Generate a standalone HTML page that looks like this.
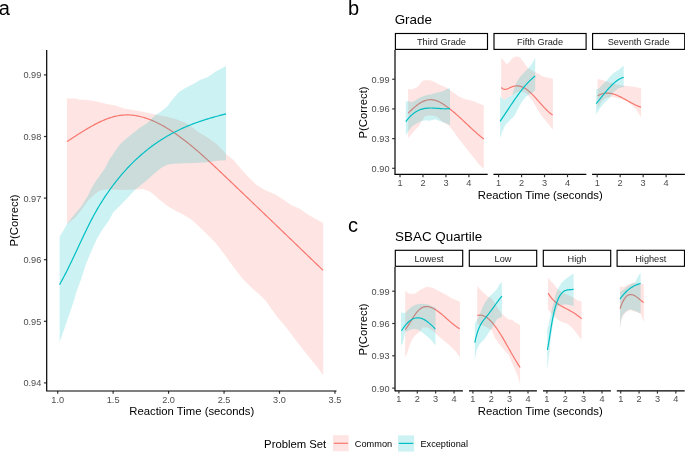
<!DOCTYPE html>
<html><head><meta charset="utf-8"><style>
html,body{margin:0;padding:0;background:#fff;}
svg{display:block;will-change:transform;}
text{font-family:"Liberation Sans",sans-serif;}
</style></head><body>
<svg width="685" height="458" viewBox="0 0 685 458">
<rect width="685" height="458" fill="#fff"/>
<text x="-1.15" y="14.5" font-size="20" text-anchor="start" fill="#000" >a</text>
<text x="347.9" y="14.6" font-size="20" text-anchor="start" fill="#000" >b</text>
<text x="348.1" y="232.1" font-size="20" text-anchor="start" fill="#000" >c</text>
<path d="M67,98.4 L74.6,98.4 L79,99.6 L89.2,100.3 L98,101.8 L106.7,104 L115.5,105.4 L124.2,108.4 L135.9,110.5 L147.6,112.7 L155.9,114.8 L164.7,116.3 L174.6,118.8 L184.4,122.2 L192.4,127.5 L198.7,132.3 L207.5,137.6 L216.2,143.7 L222.3,149.8 L226,154.1 L233.7,160.3 L241,169 L247.5,176.1 L256.2,184.8 L264.9,190.1 L275.4,194.5 L283.8,200 L291.1,204.9 L300.6,209.2 L306.7,213.8 L314.3,218.3 L323.2,222.9 L323.2,375.2 L315.4,364.7 L306.2,353.6 L297,341.8 L290,332.5 L286.2,327.6 L277.5,317.2 L268.7,304.9 L265.1,300 L259.9,295.1 L251.1,287.2 L242.4,278.5 L233.7,267.2 L224.9,254.9 L216.2,243.6 L207.5,234.8 L200.5,227.9 L192.6,220.5 L184.9,215.5 L176.2,211.1 L167.5,205.9 L158.7,198.9 L155,195.4 L149.8,191.4 L143.2,189.1 L135.4,189.5 L123.6,189.9 L113.1,189.5 L105,189.4 L99.5,190.7 L94.3,194.6 L87.7,201.2 L81.2,210.3 L74.6,218.2 L67,224.1 Z" fill="#F8766D" fill-opacity="0.2"/>
<path d="M67,141.6 L68,140.95 L69,140.3 L70,139.65 L71,138.99 L72,138.34 L73,137.69 L74,137.04 L75,136.39 L76,135.74 L77,135.1 L78,134.45 L79,133.81 L80,133.18 L81,132.55 L82,131.92 L83,131.3 L84,130.68 L85,130.07 L86,129.47 L87,128.87 L88,128.28 L89,127.7 L90,127.12 L91,126.55 L92,125.99 L93,125.44 L94,124.9 L95,124.37 L96,123.85 L97,123.34 L98,122.84 L99,122.35 L100,121.87 L101,121.41 L102,120.96 L103,120.52 L104,120.09 L105,119.68 L106,119.29 L107,118.9 L108,118.54 L109,118.18 L110,117.85 L111,117.53 L112,117.23 L113,116.94 L114,116.67 L115,116.42 L116,116.19 L117,115.97 L118,115.78 L119,115.61 L120,115.45 L121,115.32 L122,115.2 L123,115.11 L124,115.04 L125,114.98 L126,114.95 L127,114.94 L128,114.94 L129,114.97 L130,115.02 L131,115.08 L132,115.16 L133,115.26 L134,115.38 L135,115.52 L136,115.68 L137,115.85 L138,116.04 L139,116.25 L140,116.47 L141,116.71 L142,116.97 L143,117.25 L144,117.54 L145,117.84 L146,118.17 L147,118.5 L148,118.85 L149,119.22 L150,119.6 L151,120 L152,120.41 L153,120.84 L154,121.28 L155,121.73 L156,122.2 L157,122.68 L158,123.17 L159,123.67 L160,124.19 L161,124.72 L162,125.26 L163,125.82 L164,126.38 L165,126.96 L166,127.55 L167,128.15 L168,128.77 L169,129.39 L170,130.02 L171,130.67 L172,131.32 L173,131.99 L174,132.66 L175,133.35 L176,134.04 L177,134.75 L178,135.46 L179,136.18 L180,136.91 L181,137.65 L182,138.4 L183,139.16 L184,139.93 L185,140.7 L186,141.48 L187,142.27 L188,143.07 L189,143.87 L190,144.69 L191,145.51 L192,146.33 L193,147.16 L194,148 L195,148.85 L196,149.7 L197,150.56 L198,151.42 L199,152.29 L200,153.16 L201,154.04 L202,154.93 L203,155.82 L204,156.71 L205,157.61 L206,158.51 L207,159.42 L208,160.33 L209,161.25 L210,162.16 L211,163.09 L212,164.01 L213,164.94 L214,165.87 L215,166.81 L216,167.74 L217,168.68 L218,169.62 L219,170.57 L220,171.51 L221,172.46 L222,173.41 L223,174.36 L224,175.31 L225,176.26 L226,177.21 L227,178.16 L228,179.12 L229,180.07 L230,181.03 L231,181.98 L232,182.93 L233,183.89 L234,184.84 L235,185.8 L236,186.75 L237,187.71 L238,188.66 L239,189.62 L240,190.58 L241,191.53 L242,192.49 L243,193.44 L244,194.4 L245,195.36 L246,196.31 L247,197.27 L248,198.23 L249,199.18 L250,200.14 L251,201.1 L252,202.06 L253,203.01 L254,203.97 L255,204.93 L256,205.89 L257,206.84 L258,207.8 L259,208.76 L260,209.72 L261,210.68 L262,211.64 L263,212.6 L264,213.55 L265,214.51 L266,215.47 L267,216.43 L268,217.39 L269,218.35 L270,219.31 L271,220.27 L272,221.23 L273,222.19 L274,223.15 L275,224.11 L276,225.07 L277,226.03 L278,226.99 L279,227.95 L280,228.91 L281,229.87 L282,230.83 L283,231.79 L284,232.76 L285,233.72 L286,234.68 L287,235.64 L288,236.6 L289,237.56 L290,238.52 L291,239.48 L292,240.44 L293,241.41 L294,242.37 L295,243.33 L296,244.29 L297,245.25 L298,246.21 L299,247.18 L300,248.14 L301,249.1 L302,250.06 L303,251.02 L304,251.99 L305,252.95 L306,253.91 L307,254.87 L308,255.83 L309,256.8 L310,257.76 L311,258.72 L312,259.68 L313,260.65 L314,261.61 L315,262.57 L316,263.53 L317,264.49 L318,265.46 L319,266.42 L320,267.38 L321,268.34 L322,269.31 L323,270.27" fill="none" stroke="#F8766D" stroke-width="1.2"/>
<path d="M59.6,237 L61.5,233.5 L63.7,230 L67,224.1 L74.6,214.3 L81.2,206.4 L87.7,195.9 L91.6,188.1 L95.6,181.5 L100.2,175 L105.5,167.4 L109.4,159.5 L114.7,151.7 L119.9,144.5 L126.4,138.6 L133,133.3 L139.5,128.1 L147.4,122.9 L153,117.3 L155.9,114.8 L161.8,110.9 L167.7,106 L172.1,100 L178.4,92.6 L184.9,88.2 L193.7,83.8 L200,80.1 L207.9,76.9 L215.7,71.6 L226,66 L226,160.3 L216.2,160.8 L207.6,162.2 L193.7,163.1 L185,163.2 L173.4,163.8 L167.5,164.6 L161.7,167.5 L155.8,172.2 L150,177.5 L145.9,181 L135.4,189.5 L126.2,199.3 L119.7,205.9 L113.1,212.4 L109.2,220 L102.2,230 L96.9,238.7 L89.9,254.5 L85.6,264.9 L81.2,278.9 L76,292.9 L74.2,300 L69.7,313.1 L64.4,328.8 L59.6,341.9 Z" fill="#00BFC4" fill-opacity="0.2"/>
<path d="M59.6,284.59 L60.6,282.82 L61.6,281 L62.61,279.15 L63.61,277.26 L64.61,275.34 L65.61,273.39 L66.62,271.41 L67.62,269.4 L68.62,267.37 L69.62,265.31 L70.63,263.24 L71.63,261.15 L72.63,259.05 L73.63,256.93 L74.64,254.8 L75.64,252.67 L76.64,250.53 L77.64,248.38 L78.65,246.24 L79.65,244.1 L80.65,241.96 L81.65,239.82 L82.66,237.7 L83.66,235.59 L84.66,233.49 L85.66,231.4 L86.67,229.33 L87.67,227.29 L88.67,225.26 L89.67,223.26 L90.67,221.29 L91.68,219.35 L92.68,217.44 L93.68,215.56 L94.68,213.72 L95.69,211.92 L96.69,210.15 L97.69,208.42 L98.69,206.72 L99.7,205.05 L100.7,203.42 L101.7,201.81 L102.7,200.23 L103.71,198.68 L104.71,197.16 L105.71,195.66 L106.71,194.18 L107.72,192.72 L108.72,191.29 L109.72,189.87 L110.72,188.48 L111.73,187.11 L112.73,185.76 L113.73,184.43 L114.73,183.12 L115.73,181.83 L116.74,180.55 L117.74,179.3 L118.74,178.07 L119.74,176.85 L120.75,175.66 L121.75,174.48 L122.75,173.32 L123.75,172.17 L124.76,171.05 L125.76,169.94 L126.76,168.85 L127.76,167.77 L128.77,166.72 L129.77,165.67 L130.77,164.65 L131.77,163.63 L132.78,162.64 L133.78,161.66 L134.78,160.69 L135.78,159.74 L136.79,158.8 L137.79,157.87 L138.79,156.96 L139.79,156.07 L140.8,155.18 L141.8,154.31 L142.8,153.45 L143.8,152.61 L144.8,151.77 L145.81,150.95 L146.81,150.14 L147.81,149.35 L148.81,148.56 L149.82,147.79 L150.82,147.03 L151.82,146.28 L152.82,145.54 L153.83,144.81 L154.83,144.1 L155.83,143.39 L156.83,142.7 L157.84,142.02 L158.84,141.34 L159.84,140.68 L160.84,140.03 L161.85,139.39 L162.85,138.76 L163.85,138.14 L164.85,137.53 L165.86,136.93 L166.86,136.34 L167.86,135.75 L168.86,135.18 L169.87,134.62 L170.87,134.06 L171.87,133.52 L172.87,132.98 L173.87,132.46 L174.88,131.94 L175.88,131.43 L176.88,130.92 L177.88,130.43 L178.89,129.94 L179.89,129.47 L180.89,129 L181.89,128.54 L182.9,128.08 L183.9,127.63 L184.9,127.19 L185.9,126.76 L186.91,126.34 L187.91,125.92 L188.91,125.51 L189.91,125.1 L190.92,124.7 L191.92,124.31 L192.92,123.93 L193.92,123.55 L194.93,123.17 L195.93,122.81 L196.93,122.45 L197.93,122.09 L198.93,121.74 L199.94,121.4 L200.94,121.06 L201.94,120.72 L202.94,120.39 L203.95,120.07 L204.95,119.75 L205.95,119.43 L206.95,119.12 L207.96,118.82 L208.96,118.52 L209.96,118.22 L210.96,117.93 L211.97,117.64 L212.97,117.35 L213.97,117.07 L214.97,116.79 L215.98,116.52 L216.98,116.24 L217.98,115.97 L218.98,115.71 L219.99,115.45 L220.99,115.19 L221.99,114.93 L222.99,114.67 L224,114.42 L225,114.17 L226,113.92" fill="none" stroke="#00BFC4" stroke-width="1.2"/>
<line x1="43.9" y1="382.9" x2="46.7" y2="382.9" stroke="#333333" stroke-width="1.2" stroke-linecap="butt"/>
<text transform="translate(41.3,386.4) scale(0.9390,1)" font-size="9.8" text-anchor="end" fill="#4D4D4D">0.94</text>
<line x1="43.9" y1="321.3" x2="46.7" y2="321.3" stroke="#333333" stroke-width="1.2" stroke-linecap="butt"/>
<text transform="translate(41.3,324.8) scale(0.9390,1)" font-size="9.8" text-anchor="end" fill="#4D4D4D">0.95</text>
<line x1="43.9" y1="259.7" x2="46.7" y2="259.7" stroke="#333333" stroke-width="1.2" stroke-linecap="butt"/>
<text transform="translate(41.3,263.2) scale(0.9390,1)" font-size="9.8" text-anchor="end" fill="#4D4D4D">0.96</text>
<line x1="43.9" y1="198.1" x2="46.7" y2="198.1" stroke="#333333" stroke-width="1.2" stroke-linecap="butt"/>
<text transform="translate(41.3,201.6) scale(0.9390,1)" font-size="9.8" text-anchor="end" fill="#4D4D4D">0.97</text>
<line x1="43.9" y1="136.5" x2="46.7" y2="136.5" stroke="#333333" stroke-width="1.2" stroke-linecap="butt"/>
<text transform="translate(41.3,140) scale(0.9390,1)" font-size="9.8" text-anchor="end" fill="#4D4D4D">0.98</text>
<line x1="43.9" y1="74.9" x2="46.7" y2="74.9" stroke="#333333" stroke-width="1.2" stroke-linecap="butt"/>
<text transform="translate(41.3,78.4) scale(0.9390,1)" font-size="9.8" text-anchor="end" fill="#4D4D4D">0.99</text>
<line x1="57.7" y1="391" x2="57.7" y2="393.8" stroke="#333333" stroke-width="1.2" stroke-linecap="butt"/>
<text transform="translate(57.7,403) scale(0.9390,1)" font-size="9.8" text-anchor="middle" fill="#4D4D4D">1.0</text>
<line x1="113.15" y1="391" x2="113.15" y2="393.8" stroke="#333333" stroke-width="1.2" stroke-linecap="butt"/>
<text transform="translate(113.15,403) scale(0.9390,1)" font-size="9.8" text-anchor="middle" fill="#4D4D4D">1.5</text>
<line x1="168.6" y1="391" x2="168.6" y2="393.8" stroke="#333333" stroke-width="1.2" stroke-linecap="butt"/>
<text transform="translate(168.6,403) scale(0.9390,1)" font-size="9.8" text-anchor="middle" fill="#4D4D4D">2.0</text>
<line x1="224.05" y1="391" x2="224.05" y2="393.8" stroke="#333333" stroke-width="1.2" stroke-linecap="butt"/>
<text transform="translate(224.05,403) scale(0.9390,1)" font-size="9.8" text-anchor="middle" fill="#4D4D4D">2.5</text>
<line x1="279.5" y1="391" x2="279.5" y2="393.8" stroke="#333333" stroke-width="1.2" stroke-linecap="butt"/>
<text transform="translate(279.5,403) scale(0.9390,1)" font-size="9.8" text-anchor="middle" fill="#4D4D4D">3.0</text>
<line x1="334.95" y1="391" x2="334.95" y2="393.8" stroke="#333333" stroke-width="1.2" stroke-linecap="butt"/>
<text transform="translate(334.95,403) scale(0.9390,1)" font-size="9.8" text-anchor="middle" fill="#4D4D4D">3.5</text>
<path d="M46.7,50 L46.7,391.0 L336.5,391.0" fill="none" stroke="#000" stroke-width="1.2" stroke-linejoin="miter"/>
<text x="191.8" y="415.35" font-size="11.3" text-anchor="middle" fill="#000" >Reaction Time (seconds)</text>
<text x="0" y="0" font-size="11.3" text-anchor="middle" fill="#000" transform="translate(18.3,220.5) rotate(-90)">P(Correct)</text>
<text x="394.7" y="24.1" font-size="13.4" text-anchor="start" fill="#000" >Grade</text>
<rect x="395.4" y="33.5" width="92.1" height="15.9" fill="#fff" stroke="#000" stroke-width="1.15"/>
<text transform="translate(441.45,45.1) scale(0.9390,1)" font-size="9.8" text-anchor="middle" fill="#1A1A1A">Third Grade</text>
<line x1="394.85" y1="174.45" x2="487.7" y2="174.45" stroke="#000" stroke-width="1.2" stroke-linecap="butt"/>
<line x1="400" y1="174.45" x2="400" y2="177.25" stroke="#333333" stroke-width="1.2" stroke-linecap="butt"/>
<text transform="translate(400,185.8) scale(0.9390,1)" font-size="9.8" text-anchor="middle" fill="#4D4D4D">1</text>
<line x1="422.97" y1="174.45" x2="422.97" y2="177.25" stroke="#333333" stroke-width="1.2" stroke-linecap="butt"/>
<text transform="translate(422.97,185.8) scale(0.9390,1)" font-size="9.8" text-anchor="middle" fill="#4D4D4D">2</text>
<line x1="445.94" y1="174.45" x2="445.94" y2="177.25" stroke="#333333" stroke-width="1.2" stroke-linecap="butt"/>
<text transform="translate(445.94,185.8) scale(0.9390,1)" font-size="9.8" text-anchor="middle" fill="#4D4D4D">3</text>
<line x1="468.91" y1="174.45" x2="468.91" y2="177.25" stroke="#333333" stroke-width="1.2" stroke-linecap="butt"/>
<text transform="translate(468.91,185.8) scale(0.9390,1)" font-size="9.8" text-anchor="middle" fill="#4D4D4D">4</text>
<rect x="494" y="33.5" width="92.1" height="15.9" fill="#fff" stroke="#000" stroke-width="1.15"/>
<text transform="translate(540.05,45.1) scale(0.9390,1)" font-size="9.8" text-anchor="middle" fill="#1A1A1A">Fifth Grade</text>
<line x1="493.45" y1="174.45" x2="586.3" y2="174.45" stroke="#000" stroke-width="1.2" stroke-linecap="butt"/>
<line x1="498.6" y1="174.45" x2="498.6" y2="177.25" stroke="#333333" stroke-width="1.2" stroke-linecap="butt"/>
<text transform="translate(498.6,185.8) scale(0.9390,1)" font-size="9.8" text-anchor="middle" fill="#4D4D4D">1</text>
<line x1="521.57" y1="174.45" x2="521.57" y2="177.25" stroke="#333333" stroke-width="1.2" stroke-linecap="butt"/>
<text transform="translate(521.57,185.8) scale(0.9390,1)" font-size="9.8" text-anchor="middle" fill="#4D4D4D">2</text>
<line x1="544.54" y1="174.45" x2="544.54" y2="177.25" stroke="#333333" stroke-width="1.2" stroke-linecap="butt"/>
<text transform="translate(544.54,185.8) scale(0.9390,1)" font-size="9.8" text-anchor="middle" fill="#4D4D4D">3</text>
<line x1="567.51" y1="174.45" x2="567.51" y2="177.25" stroke="#333333" stroke-width="1.2" stroke-linecap="butt"/>
<text transform="translate(567.51,185.8) scale(0.9390,1)" font-size="9.8" text-anchor="middle" fill="#4D4D4D">4</text>
<rect x="592.6" y="33.5" width="92.1" height="15.9" fill="#fff" stroke="#000" stroke-width="1.15"/>
<text transform="translate(638.65,45.1) scale(0.9390,1)" font-size="9.8" text-anchor="middle" fill="#1A1A1A">Seventh Grade</text>
<line x1="592.05" y1="174.45" x2="684.9" y2="174.45" stroke="#000" stroke-width="1.2" stroke-linecap="butt"/>
<line x1="597.2" y1="174.45" x2="597.2" y2="177.25" stroke="#333333" stroke-width="1.2" stroke-linecap="butt"/>
<text transform="translate(597.2,185.8) scale(0.9390,1)" font-size="9.8" text-anchor="middle" fill="#4D4D4D">1</text>
<line x1="620.17" y1="174.45" x2="620.17" y2="177.25" stroke="#333333" stroke-width="1.2" stroke-linecap="butt"/>
<text transform="translate(620.17,185.8) scale(0.9390,1)" font-size="9.8" text-anchor="middle" fill="#4D4D4D">2</text>
<line x1="643.14" y1="174.45" x2="643.14" y2="177.25" stroke="#333333" stroke-width="1.2" stroke-linecap="butt"/>
<text transform="translate(643.14,185.8) scale(0.9390,1)" font-size="9.8" text-anchor="middle" fill="#4D4D4D">3</text>
<line x1="666.11" y1="174.45" x2="666.11" y2="177.25" stroke="#333333" stroke-width="1.2" stroke-linecap="butt"/>
<text transform="translate(666.11,185.8) scale(0.9390,1)" font-size="9.8" text-anchor="middle" fill="#4D4D4D">4</text>
<path d="M408.2,88.7 L411,89.5 L415,88.3 L418.3,86.2 L420.7,83 L423.1,80.6 L427.1,80.2 L431.1,80.6 L435.1,82.2 L439.1,84.6 L443.2,86.2 L447.2,87.9 L451.2,91.1 L458,95.9 L463.8,98.7 L473,101 L483.8,105.6 L483.8,168.7 L480,165.4 L475.6,160 L471.2,154.5 L466.8,149 L462.5,143.6 L458.1,138.1 L453.7,131.6 L449.4,126.1 L447.2,124.5 L443.2,122.3 L440.8,120.3 L437.5,117 L432.7,115.4 L428.7,115.4 L424.7,116.2 L423.1,119.5 L421.5,121.1 L419.1,125.9 L415,129.9 L411,134.7 L408.2,137.9 Z" fill="#F8766D" fill-opacity="0.2"/>
<path d="M408.2,113.16 L409.21,112.16 L410.22,111.18 L411.22,110.21 L412.23,109.27 L413.24,108.35 L414.25,107.46 L415.26,106.61 L416.26,105.79 L417.27,105.01 L418.28,104.27 L419.29,103.58 L420.3,102.94 L421.3,102.35 L422.31,101.82 L423.32,101.34 L424.33,100.92 L425.34,100.56 L426.34,100.26 L427.35,100.02 L428.36,99.85 L429.37,99.74 L430.38,99.69 L431.38,99.72 L432.39,99.81 L433.4,99.96 L434.41,100.17 L435.42,100.44 L436.42,100.77 L437.43,101.14 L438.44,101.56 L439.45,102.03 L440.46,102.55 L441.46,103.1 L442.47,103.69 L443.48,104.32 L444.49,104.98 L445.5,105.66 L446.5,106.38 L447.51,107.11 L448.52,107.87 L449.53,108.65 L450.54,109.45 L451.54,110.27 L452.55,111.1 L453.56,111.95 L454.57,112.82 L455.58,113.7 L456.58,114.59 L457.59,115.49 L458.6,116.4 L459.61,117.32 L460.62,118.25 L461.62,119.18 L462.63,120.12 L463.64,121.07 L464.65,122.01 L465.66,122.96 L466.66,123.91 L467.67,124.86 L468.68,125.81 L469.69,126.76 L470.7,127.7 L471.7,128.64 L472.71,129.57 L473.72,130.49 L474.73,131.41 L475.74,132.31 L476.74,133.21 L477.75,134.09 L478.76,134.96 L479.77,135.82 L480.78,136.66 L481.78,137.48 L482.79,138.29 L483.8,139.08" fill="none" stroke="#F8766D" stroke-width="1.2"/>
<path d="M405.8,101.9 L408.2,101.1 L411,102.3 L415,100.7 L419.1,97.9 L423.1,96.3 L427.1,95.1 L431.1,94.3 L435.1,93.1 L439.1,92.3 L443.2,91.1 L447.2,89.1 L450,87.9 L450,125.1 L443.2,122.3 L439.1,120.7 L435.1,119.3 L429.5,120.7 L425.5,120.3 L421.5,121.1 L419.1,122.3 L415,124.3 L411,127.5 L408.2,131.5 L405.8,135.5 Z" fill="#00BFC4" fill-opacity="0.2"/>
<path d="M405.8,121.69 L406.8,120.34 L407.81,119.07 L408.81,117.89 L409.82,116.79 L410.82,115.78 L411.83,114.84 L412.83,113.98 L413.84,113.19 L414.84,112.47 L415.85,111.81 L416.85,111.22 L417.85,110.69 L418.86,110.22 L419.86,109.8 L420.87,109.43 L421.87,109.12 L422.88,108.85 L423.88,108.62 L424.89,108.43 L425.89,108.29 L426.9,108.17 L427.9,108.09 L428.9,108.04 L429.91,108.01 L430.91,108.01 L431.92,108.02 L432.92,108.06 L433.93,108.11 L434.93,108.17 L435.94,108.24 L436.94,108.31 L437.95,108.39 L438.95,108.47 L439.95,108.54 L440.96,108.62 L441.96,108.68 L442.97,108.73 L443.97,108.77 L444.98,108.78 L445.98,108.78 L446.99,108.76 L447.99,108.71 L449,108.64 L450,108.53" fill="none" stroke="#00BFC4" stroke-width="1.2"/>
<path d="M501.2,57.7 L504.6,61.6 L506.7,64.3 L510,61.6 L512.2,58.3 L516.6,56.3 L519.9,57.2 L523.1,61.6 L526.4,65.9 L528.6,68.4 L531.9,70.5 L535.2,72.2 L538.5,73.8 L542.8,76.5 L547.2,77.6 L552.9,78.7 L552.9,129.9 L550.5,126.6 L546.1,121.2 L541.7,115.7 L537.4,109.2 L533,101.5 L529.7,97.2 L528,95 L525.3,92.7 L521,91.6 L516.6,92.2 L512.2,95.4 L507.8,97.6 L504.6,99.8 L502.4,98.7 L501.2,96 Z" fill="#F8766D" fill-opacity="0.2"/>
<path d="M501.3,87.49 L502.31,88.44 L503.31,89.03 L504.32,89.33 L505.32,89.38 L506.33,89.22 L507.34,88.91 L508.34,88.49 L509.35,88.02 L510.35,87.53 L511.36,87.08 L512.36,86.7 L513.37,86.39 L514.38,86.16 L515.38,86 L516.39,85.91 L517.39,85.9 L518.4,85.97 L519.41,86.11 L520.41,86.33 L521.42,86.63 L522.42,87 L523.43,87.45 L524.44,87.98 L525.44,88.59 L526.45,89.28 L527.45,90.03 L528.46,90.84 L529.46,91.71 L530.47,92.63 L531.48,93.59 L532.48,94.6 L533.49,95.64 L534.49,96.71 L535.5,97.81 L536.51,98.92 L537.51,100.05 L538.52,101.19 L539.52,102.33 L540.53,103.47 L541.54,104.6 L542.54,105.72 L543.55,106.82 L544.55,107.9 L545.56,108.95 L546.56,109.96 L547.57,110.93 L548.58,111.86 L549.58,112.74 L550.59,113.56 L551.59,114.33 L552.6,115.02" fill="none" stroke="#F8766D" stroke-width="1.2"/>
<path d="M500.1,96 L502.4,98.7 L504.6,99.8 L507.8,97.6 L512.2,95.4 L514.4,87.8 L516.6,82.3 L519.9,76.9 L524.2,72.5 L528.6,68.1 L531.9,63.7 L534.6,58.8 L535.2,57.5 L535.2,90 L533,92.2 L529.7,94.3 L527.5,95.5 L525.4,97.2 L522.1,101.5 L517.7,109.2 L514.5,115.7 L510.1,120.1 L505.7,124.5 L502.5,131 L500.1,138.6 Z" fill="#00BFC4" fill-opacity="0.2"/>
<path d="M500.1,121.43 L501.1,119.93 L502.11,118.42 L503.11,116.91 L504.11,115.39 L505.11,113.87 L506.12,112.35 L507.12,110.83 L508.12,109.31 L509.13,107.8 L510.13,106.29 L511.13,104.79 L512.13,103.3 L513.14,101.83 L514.14,100.37 L515.14,98.92 L516.15,97.49 L517.15,96.08 L518.15,94.69 L519.15,93.32 L520.16,91.98 L521.16,90.67 L522.16,89.38 L523.17,88.12 L524.17,86.89 L525.17,85.7 L526.17,84.55 L527.18,83.43 L528.18,82.35 L529.18,81.31 L530.19,80.31 L531.19,79.36 L532.19,78.45 L533.19,77.59 L534.2,76.78 L535.2,76.03" fill="none" stroke="#00BFC4" stroke-width="1.2"/>
<path d="M597.6,79 L602.5,80.3 L606.4,81.6 L611.7,82.9 L618.2,84.9 L623.8,85.5 L628.7,86.2 L635.2,86.9 L641.1,88.2 L641.1,117.6 L636.5,109.8 L631.3,104.5 L624.8,100 L618.2,98 L611.7,96.7 L605.1,98 L601.2,101.9 L597.6,108.5 Z" fill="#F8766D" fill-opacity="0.2"/>
<path d="M597.7,95.91 L598.71,95.3 L599.72,94.78 L600.73,94.33 L601.74,93.96 L602.75,93.66 L603.76,93.42 L604.77,93.25 L605.77,93.15 L606.78,93.1 L607.79,93.11 L608.8,93.17 L609.81,93.29 L610.82,93.45 L611.83,93.66 L612.84,93.92 L613.85,94.21 L614.86,94.54 L615.87,94.91 L616.88,95.31 L617.89,95.73 L618.9,96.19 L619.9,96.66 L620.91,97.16 L621.92,97.68 L622.93,98.21 L623.94,98.75 L624.95,99.3 L625.96,99.86 L626.97,100.43 L627.98,100.99 L628.99,101.55 L630,102.11 L631.01,102.66 L632.02,103.21 L633.03,103.74 L634.03,104.25 L635.04,104.74 L636.05,105.22 L637.06,105.67 L638.07,106.09 L639.08,106.48 L640.09,106.85 L641.1,107.17" fill="none" stroke="#F8766D" stroke-width="1.2"/>
<path d="M596.2,89.5 L598.9,88.3 L602.6,84.6 L606.2,81 L609.9,76.7 L613.6,73 L618.5,70 L623.7,65.4 L623.7,87.1 L618.5,88.3 L613.6,92 L609.9,97.5 L606.2,101.1 L602.6,104.8 L598.9,109.7 L596.2,114.6 Z" fill="#00BFC4" fill-opacity="0.2"/>
<path d="M596.2,103.58 L597.22,102.33 L598.24,101.07 L599.26,99.8 L600.27,98.54 L601.29,97.27 L602.31,96.01 L603.33,94.76 L604.35,93.52 L605.37,92.29 L606.39,91.09 L607.4,89.91 L608.42,88.76 L609.44,87.64 L610.46,86.56 L611.48,85.51 L612.5,84.51 L613.51,83.55 L614.53,82.64 L615.55,81.78 L616.57,80.99 L617.59,80.25 L618.61,79.58 L619.63,78.97 L620.64,78.44 L621.66,77.99 L622.68,77.61 L623.7,77.31" fill="none" stroke="#00BFC4" stroke-width="1.2"/>
<line x1="395" y1="49.9" x2="395" y2="175" stroke="#000" stroke-width="1.2" stroke-linecap="butt"/>
<line x1="392.2" y1="168.3" x2="395" y2="168.3" stroke="#333333" stroke-width="1.2" stroke-linecap="butt"/>
<text transform="translate(389.5,171.8) scale(0.9390,1)" font-size="9.8" text-anchor="end" fill="#4D4D4D">0.90</text>
<line x1="392.2" y1="138.61" x2="395" y2="138.61" stroke="#333333" stroke-width="1.2" stroke-linecap="butt"/>
<text transform="translate(389.5,142.11) scale(0.9390,1)" font-size="9.8" text-anchor="end" fill="#4D4D4D">0.93</text>
<line x1="392.2" y1="108.92" x2="395" y2="108.92" stroke="#333333" stroke-width="1.2" stroke-linecap="butt"/>
<text transform="translate(389.5,112.42) scale(0.9390,1)" font-size="9.8" text-anchor="end" fill="#4D4D4D">0.96</text>
<line x1="392.2" y1="79.23" x2="395" y2="79.23" stroke="#333333" stroke-width="1.2" stroke-linecap="butt"/>
<text transform="translate(389.5,82.73) scale(0.9390,1)" font-size="9.8" text-anchor="end" fill="#4D4D4D">0.99</text>
<text x="540.2" y="199.1" font-size="11.3" text-anchor="middle" fill="#000" >Reaction Time (seconds)</text>
<text x="0" y="0" font-size="11.3" text-anchor="middle" fill="#000" transform="translate(367,112.5) rotate(-90)">P(Correct)</text>
<text x="395.1" y="240.8" font-size="13.4" text-anchor="start" fill="#000" >SBAC Quartile</text>
<rect x="395.3" y="250.3" width="67.4" height="16.0" fill="#fff" stroke="#000" stroke-width="1.15"/>
<text transform="translate(429,262) scale(0.9390,1)" font-size="9.8" text-anchor="middle" fill="#1A1A1A">Lowest</text>
<line x1="395" y1="390.8" x2="462.9" y2="390.8" stroke="#000" stroke-width="1.2" stroke-linecap="butt"/>
<line x1="398.9" y1="390.8" x2="398.9" y2="393.6" stroke="#333333" stroke-width="1.2" stroke-linecap="butt"/>
<text transform="translate(398.9,402.4) scale(0.9390,1)" font-size="9.8" text-anchor="middle" fill="#4D4D4D">1</text>
<line x1="417.27" y1="390.8" x2="417.27" y2="393.6" stroke="#333333" stroke-width="1.2" stroke-linecap="butt"/>
<text transform="translate(417.27,402.4) scale(0.9390,1)" font-size="9.8" text-anchor="middle" fill="#4D4D4D">2</text>
<line x1="435.64" y1="390.8" x2="435.64" y2="393.6" stroke="#333333" stroke-width="1.2" stroke-linecap="butt"/>
<text transform="translate(435.64,402.4) scale(0.9390,1)" font-size="9.8" text-anchor="middle" fill="#4D4D4D">3</text>
<line x1="454.01" y1="390.8" x2="454.01" y2="393.6" stroke="#333333" stroke-width="1.2" stroke-linecap="butt"/>
<text transform="translate(454.01,402.4) scale(0.9390,1)" font-size="9.8" text-anchor="middle" fill="#4D4D4D">4</text>
<rect x="469.3" y="250.3" width="67.4" height="16.0" fill="#fff" stroke="#000" stroke-width="1.15"/>
<text transform="translate(503,262) scale(0.9390,1)" font-size="9.8" text-anchor="middle" fill="#1A1A1A">Low</text>
<line x1="469" y1="390.8" x2="536.9" y2="390.8" stroke="#000" stroke-width="1.2" stroke-linecap="butt"/>
<line x1="472.9" y1="390.8" x2="472.9" y2="393.6" stroke="#333333" stroke-width="1.2" stroke-linecap="butt"/>
<text transform="translate(472.9,402.4) scale(0.9390,1)" font-size="9.8" text-anchor="middle" fill="#4D4D4D">1</text>
<line x1="491.27" y1="390.8" x2="491.27" y2="393.6" stroke="#333333" stroke-width="1.2" stroke-linecap="butt"/>
<text transform="translate(491.27,402.4) scale(0.9390,1)" font-size="9.8" text-anchor="middle" fill="#4D4D4D">2</text>
<line x1="509.64" y1="390.8" x2="509.64" y2="393.6" stroke="#333333" stroke-width="1.2" stroke-linecap="butt"/>
<text transform="translate(509.64,402.4) scale(0.9390,1)" font-size="9.8" text-anchor="middle" fill="#4D4D4D">3</text>
<line x1="528.01" y1="390.8" x2="528.01" y2="393.6" stroke="#333333" stroke-width="1.2" stroke-linecap="butt"/>
<text transform="translate(528.01,402.4) scale(0.9390,1)" font-size="9.8" text-anchor="middle" fill="#4D4D4D">4</text>
<rect x="543.3" y="250.3" width="67.4" height="16.0" fill="#fff" stroke="#000" stroke-width="1.15"/>
<text transform="translate(577,262) scale(0.9390,1)" font-size="9.8" text-anchor="middle" fill="#1A1A1A">High</text>
<line x1="543" y1="390.8" x2="610.9" y2="390.8" stroke="#000" stroke-width="1.2" stroke-linecap="butt"/>
<line x1="546.9" y1="390.8" x2="546.9" y2="393.6" stroke="#333333" stroke-width="1.2" stroke-linecap="butt"/>
<text transform="translate(546.9,402.4) scale(0.9390,1)" font-size="9.8" text-anchor="middle" fill="#4D4D4D">1</text>
<line x1="565.27" y1="390.8" x2="565.27" y2="393.6" stroke="#333333" stroke-width="1.2" stroke-linecap="butt"/>
<text transform="translate(565.27,402.4) scale(0.9390,1)" font-size="9.8" text-anchor="middle" fill="#4D4D4D">2</text>
<line x1="583.64" y1="390.8" x2="583.64" y2="393.6" stroke="#333333" stroke-width="1.2" stroke-linecap="butt"/>
<text transform="translate(583.64,402.4) scale(0.9390,1)" font-size="9.8" text-anchor="middle" fill="#4D4D4D">3</text>
<line x1="602.01" y1="390.8" x2="602.01" y2="393.6" stroke="#333333" stroke-width="1.2" stroke-linecap="butt"/>
<text transform="translate(602.01,402.4) scale(0.9390,1)" font-size="9.8" text-anchor="middle" fill="#4D4D4D">4</text>
<rect x="617.1" y="250.3" width="67.4" height="16.0" fill="#fff" stroke="#000" stroke-width="1.15"/>
<text transform="translate(650.8,262) scale(0.9390,1)" font-size="9.8" text-anchor="middle" fill="#1A1A1A">Highest</text>
<line x1="616.8" y1="390.8" x2="684.7" y2="390.8" stroke="#000" stroke-width="1.2" stroke-linecap="butt"/>
<line x1="620.7" y1="390.8" x2="620.7" y2="393.6" stroke="#333333" stroke-width="1.2" stroke-linecap="butt"/>
<text transform="translate(620.7,402.4) scale(0.9390,1)" font-size="9.8" text-anchor="middle" fill="#4D4D4D">1</text>
<line x1="639.07" y1="390.8" x2="639.07" y2="393.6" stroke="#333333" stroke-width="1.2" stroke-linecap="butt"/>
<text transform="translate(639.07,402.4) scale(0.9390,1)" font-size="9.8" text-anchor="middle" fill="#4D4D4D">2</text>
<line x1="657.44" y1="390.8" x2="657.44" y2="393.6" stroke="#333333" stroke-width="1.2" stroke-linecap="butt"/>
<text transform="translate(657.44,402.4) scale(0.9390,1)" font-size="9.8" text-anchor="middle" fill="#4D4D4D">3</text>
<line x1="675.81" y1="390.8" x2="675.81" y2="393.6" stroke="#333333" stroke-width="1.2" stroke-linecap="butt"/>
<text transform="translate(675.81,402.4) scale(0.9390,1)" font-size="9.8" text-anchor="middle" fill="#4D4D4D">4</text>
<path d="M405.2,290.7 L408.8,293.7 L414.7,293.7 L420.6,289.7 L426.5,286.8 L432.4,287.8 L438.3,290.7 L446.1,294.7 L452,298.6 L459.9,301.5 L459.9,357.6 L456,351.7 L450.1,345.8 L444.2,340.9 L438.3,336 L435,332.5 L431.1,329.8 L427.9,327.4 L422.4,327.4 L420.1,331.4 L417.7,333.3 L414.6,336.1 L412.2,339.2 L409.9,344.7 L408.3,349.4 L406.7,354 L405.2,357.6 Z" fill="#F8766D" fill-opacity="0.2"/>
<path d="M405.2,329.61 L406.21,328.32 L407.21,326.9 L408.22,325.4 L409.23,323.83 L410.24,322.21 L411.24,320.57 L412.25,318.94 L413.26,317.33 L414.27,315.77 L415.27,314.29 L416.28,312.91 L417.29,311.66 L418.3,310.55 L419.3,309.59 L420.31,308.78 L421.32,308.11 L422.33,307.57 L423.33,307.15 L424.34,306.86 L425.35,306.68 L426.36,306.61 L427.36,306.63 L428.37,306.75 L429.38,306.95 L430.39,307.24 L431.39,307.59 L432.4,308.01 L433.41,308.5 L434.41,309.04 L435.42,309.63 L436.43,310.27 L437.44,310.96 L438.44,311.68 L439.45,312.45 L440.46,313.24 L441.47,314.06 L442.47,314.91 L443.48,315.77 L444.49,316.65 L445.5,317.54 L446.5,318.43 L447.51,319.33 L448.52,320.23 L449.53,321.12 L450.53,321.99 L451.54,322.86 L452.55,323.7 L453.56,324.52 L454.56,325.31 L455.57,326.07 L456.58,326.8 L457.59,327.48 L458.59,328.12 L459.6,328.71" fill="none" stroke="#F8766D" stroke-width="1.2"/>
<path d="M401,312.4 L405,313 L407.6,310.6 L411.2,307 L416,304.6 L422,303.7 L428.1,304.4 L432.9,306.4 L435.5,307.6 L435.5,345.5 L431.9,340.8 L427.9,336.9 L424,333.7 L420.1,331 L417.7,329.4 L414.6,329 L411.4,329.4 L408.3,330.6 L405.1,332.5 L402.8,343 L401,345.5 Z" fill="#00BFC4" fill-opacity="0.2"/>
<path d="M401.5,330.84 L402.52,329.21 L403.55,327.69 L404.57,326.28 L405.6,324.98 L406.62,323.8 L407.65,322.73 L408.67,321.77 L409.69,320.91 L410.72,320.16 L411.74,319.52 L412.77,318.98 L413.79,318.55 L414.82,318.21 L415.84,317.98 L416.86,317.85 L417.89,317.81 L418.91,317.87 L419.94,318.03 L420.96,318.28 L421.98,318.62 L423.01,319.04 L424.03,319.55 L425.06,320.13 L426.08,320.78 L427.11,321.5 L428.13,322.28 L429.15,323.11 L430.18,323.99 L431.2,324.92 L432.23,325.88 L433.25,326.88 L434.28,327.91 L435.3,328.96" fill="none" stroke="#00BFC4" stroke-width="1.2"/>
<path d="M477.2,285.9 L479.9,289.2 L483.8,293.1 L487.7,296.4 L491.7,298.4 L496.9,306.2 L501.5,313.4 L506.1,317.4 L508.6,319.6 L512,319.8 L514.7,321.9 L520.1,324.9 L520.1,384.5 L517.8,376.1 L513.2,365.4 L508.6,354.7 L504.1,350.1 L499.5,344 L494.9,337.9 L491.8,330.3 L490.3,329.5 L485.7,326.5 L481.2,324.9 L477.2,324.2 Z" fill="#F8766D" fill-opacity="0.2"/>
<path d="M477.2,315.52 L478.22,315.26 L479.24,315.13 L480.26,315.11 L481.29,315.22 L482.31,315.43 L483.33,315.76 L484.35,316.19 L485.37,316.72 L486.39,317.35 L487.41,318.07 L488.44,318.89 L489.46,319.79 L490.48,320.78 L491.5,321.85 L492.52,322.99 L493.54,324.21 L494.56,325.5 L495.59,326.86 L496.61,328.27 L497.63,329.75 L498.65,331.28 L499.67,332.87 L500.69,334.49 L501.71,336.16 L502.74,337.86 L503.76,339.6 L504.78,341.36 L505.8,343.13 L506.82,344.93 L507.84,346.74 L508.86,348.55 L509.89,350.36 L510.91,352.17 L511.93,353.97 L512.95,355.75 L513.97,357.52 L514.99,359.26 L516.01,360.98 L517.04,362.66 L518.06,364.31 L519.08,365.91 L520.1,367.46" fill="none" stroke="#F8766D" stroke-width="1.2"/>
<path d="M474.8,323.9 L477.3,319 L479.9,314.1 L482.5,307.5 L485.1,302.3 L489,297 L493,293.1 L496.9,289.2 L499.5,284.6 L501.9,282 L501.9,316.7 L496.9,319.3 L492.6,327.2 L490.3,330.3 L487.3,334.8 L484.2,339.4 L479.6,344 L476.6,350.1 L474.8,360.8 Z" fill="#00BFC4" fill-opacity="0.2"/>
<path d="M474.8,342.67 L475.8,338.15 L476.81,334.37 L477.81,331.2 L478.81,328.55 L479.82,326.31 L480.82,324.38 L481.83,322.69 L482.83,321.2 L483.83,319.85 L484.84,318.59 L485.84,317.37 L486.84,316.15 L487.85,314.88 L488.85,313.59 L489.86,312.26 L490.86,310.92 L491.86,309.56 L492.87,308.18 L493.87,306.8 L494.87,305.41 L495.88,304.02 L496.88,302.64 L497.89,301.27 L498.89,299.92 L499.89,298.59 L500.9,297.29 L501.9,296.01" fill="none" stroke="#00BFC4" stroke-width="1.2"/>
<path d="M548.1,277.5 L550.5,280.7 L553.7,284 L557,288.5 L561.4,292.2 L566.9,294.4 L571.2,296.6 L573.6,297.7 L577.8,300.4 L581.6,301.5 L581.6,339.8 L579,336.5 L575.7,332.2 L571.3,326.7 L567,323.4 L562.6,322.3 L558.2,320.1 L554.9,316.9 L550.5,312.5 L548.1,309.2 Z" fill="#F8766D" fill-opacity="0.2"/>
<path d="M548.1,293.1 L549.12,294.71 L550.13,296.18 L551.15,297.53 L552.16,298.76 L553.18,299.88 L554.19,300.9 L555.21,301.83 L556.22,302.68 L557.24,303.45 L558.25,304.17 L559.27,304.83 L560.28,305.45 L561.3,306.03 L562.31,306.59 L563.33,307.13 L564.34,307.67 L565.36,308.2 L566.37,308.73 L567.39,309.27 L568.4,309.81 L569.42,310.36 L570.43,310.93 L571.45,311.51 L572.46,312.1 L573.48,312.72 L574.49,313.36 L575.51,314.03 L576.52,314.73 L577.54,315.46 L578.55,316.22 L579.57,317.02 L580.58,317.87 L581.6,318.76" fill="none" stroke="#F8766D" stroke-width="1.2"/>
<path d="M547.2,329 L548.4,325.6 L550.6,314.7 L552.7,305.9 L554.3,300.4 L555.9,293.9 L558.1,288.4 L561.4,282.9 L564.7,279.7 L569,276.4 L573.6,273.6 L573.6,305.9 L565.9,304.3 L561.4,304.8 L559,305.2 L557.5,307 L556,311.4 L554.4,317 L552.7,326 L551,337 L549.5,352 L547.2,369.7 Z" fill="#00BFC4" fill-opacity="0.2"/>
<path d="M547.4,350.01 L548.41,344.51 L549.42,338.22 L550.42,331.69 L551.43,325.42 L552.44,319.68 L553.45,314.64 L554.45,310.3 L555.46,306.57 L556.47,303.38 L557.48,300.66 L558.48,298.33 L559.49,296.37 L560.5,294.74 L561.51,293.41 L562.52,292.35 L563.52,291.52 L564.53,290.9 L565.54,290.45 L566.55,290.14 L567.55,289.94 L568.56,289.81 L569.57,289.72 L570.58,289.64 L571.58,289.54 L572.59,289.38 L573.6,289.13" fill="none" stroke="#00BFC4" stroke-width="1.2"/>
<path d="M620.1,286.4 L621.9,286.8 L623.4,287.2 L624.9,286.4 L627.2,284.9 L630.3,283.8 L633.3,282.6 L634.9,283 L637.9,283.8 L641,283.8 L643.8,284.2 L643.8,322.4 L642.5,318.5 L640.8,313.6 L638.6,313 L635.6,311.8 L632.7,310.8 L630.2,310.2 L628.8,310.5 L625.8,312.5 L622.9,316 L620.9,322 L620.1,331.3 Z" fill="#F8766D" fill-opacity="0.2"/>
<path d="M620,308.79 L621.03,305.86 L622.06,303.32 L623.09,301.15 L624.12,299.33 L625.15,297.83 L626.18,296.65 L627.21,295.74 L628.24,295.1 L629.27,294.7 L630.3,294.52 L631.33,294.54 L632.37,294.73 L633.4,295.09 L634.43,295.57 L635.46,296.18 L636.49,296.87 L637.52,297.63 L638.55,298.44 L639.58,299.28 L640.61,300.13 L641.64,300.96 L642.67,301.76 L643.7,302.49" fill="none" stroke="#F8766D" stroke-width="1.2"/>
<path d="M620.1,291.8 L622.6,290.3 L626.5,287.2 L630.5,284.5 L634.9,282.6 L637.2,278 L639.4,274.2 L640.6,272.7 L640.6,313.6 L638.6,312.6 L635.6,311.1 L632.7,310.2 L630.2,309.2 L628.8,309.7 L625.8,311.6 L622.9,314.6 L620.9,319.5 L620.1,328 Z" fill="#00BFC4" fill-opacity="0.2"/>
<path d="M620,299.12 L621.03,297.69 L622.06,296.34 L623.09,295.08 L624.12,293.89 L625.15,292.78 L626.18,291.74 L627.21,290.78 L628.24,289.88 L629.27,289.04 L630.3,288.27 L631.33,287.56 L632.36,286.91 L633.39,286.31 L634.42,285.77 L635.45,285.27 L636.48,284.82 L637.51,284.42 L638.54,284.06 L639.57,283.73 L640.6,283.45" fill="none" stroke="#00BFC4" stroke-width="1.2"/>
<line x1="395" y1="266.9" x2="395" y2="391.35" stroke="#000" stroke-width="1.2" stroke-linecap="butt"/>
<line x1="392.2" y1="388.1" x2="395" y2="388.1" stroke="#333333" stroke-width="1.2" stroke-linecap="butt"/>
<text transform="translate(389.5,391.6) scale(0.9390,1)" font-size="9.8" text-anchor="end" fill="#4D4D4D">0.90</text>
<line x1="392.2" y1="355.8" x2="395" y2="355.8" stroke="#333333" stroke-width="1.2" stroke-linecap="butt"/>
<text transform="translate(389.5,359.3) scale(0.9390,1)" font-size="9.8" text-anchor="end" fill="#4D4D4D">0.93</text>
<line x1="392.2" y1="323.5" x2="395" y2="323.5" stroke="#333333" stroke-width="1.2" stroke-linecap="butt"/>
<text transform="translate(389.5,327) scale(0.9390,1)" font-size="9.8" text-anchor="end" fill="#4D4D4D">0.96</text>
<line x1="392.2" y1="291.2" x2="395" y2="291.2" stroke="#333333" stroke-width="1.2" stroke-linecap="butt"/>
<text transform="translate(389.5,294.7) scale(0.9390,1)" font-size="9.8" text-anchor="end" fill="#4D4D4D">0.99</text>
<text x="540.2" y="415.35" font-size="11.3" text-anchor="middle" fill="#000" >Reaction Time (seconds)</text>
<text x="0" y="0" font-size="11.3" text-anchor="middle" fill="#000" transform="translate(367,329.5) rotate(-90)">P(Correct)</text>
<text x="264.1" y="447.8" font-size="11.3" text-anchor="start" fill="#000" >Problem Set</text>
<rect x="333" y="435.2" width="15.7" height="16.1" fill="#F8766D" fill-opacity="0.2"/>
<line x1="333.8" y1="443.3" x2="347.9" y2="443.3" stroke="#F8766D" stroke-width="1.2" stroke-linecap="butt"/>
<text transform="translate(354.8,447.2) scale(0.9390,1)" font-size="9.8" text-anchor="start" fill="#000">Common</text>
<rect x="398" y="435.4" width="16.1" height="16.2" fill="#00BFC4" fill-opacity="0.2"/>
<line x1="398.8" y1="443.4" x2="413.3" y2="443.4" stroke="#00BFC4" stroke-width="1.2" stroke-linecap="butt"/>
<text transform="translate(420.4,447.2) scale(0.9390,1)" font-size="9.8" text-anchor="start" fill="#000">Exceptional</text>
</svg>
</body></html>
